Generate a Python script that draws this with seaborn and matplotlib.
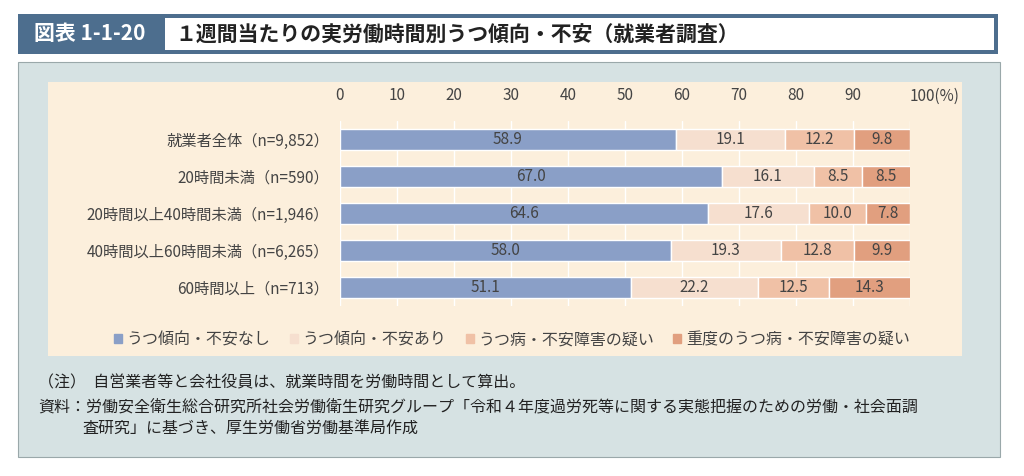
import matplotlib
matplotlib.use("Agg")
import matplotlib.pyplot as plt
import seaborn as sns
import pandas as pd
from matplotlib.patches import Rectangle

sns.set_theme(style="white")
plt.rcParams['font.family'] = ['Noto Sans CJK JP', 'DejaVu Sans']

categories = ["就業者全体（n=9,852）", "20時間未満（n=590）", "20時間以上40時間未満（n=1,946）",
              "40時間以上60時間未満（n=6,265）", "60時間以上（n=713）"]
series = ["うつ傾向・不安なし", "うつ傾向・不安あり", "うつ病・不安障害の疑い", "重度のうつ病・不安障害の疑い"]
v_none = [58.9, 67.0, 64.6, 58.0, 51.1]
v_some = [19.1, 16.1, 17.6, 19.3, 22.2]
v_sus = [12.2, 8.5, 10.0, 12.8, 12.5]
v_sev = [9.8, 8.5, 7.8, 9.9, 14.3]
colors = ["#8a9fc7", "#f6dfcf", "#f0c1a6", "#e19f7f"]
ticks = [0, 10, 20, 30, 40, 50, 60, 70, 80, 90, 100]

W, H = 1024, 476
fig = plt.figure(figsize=(W/100, H/100), dpi=100)
def fx(x): return x / W
def fy(y): return 1 - y / H
def rect(x0, y0, x1, y1, fc, ec="none", lw=0):
    fig.patches.append(Rectangle((fx(x0), fy(y1)), fx(x1-x0), (y1-y0)/H, transform=fig.transFigure,
                                 facecolor=fc, edgecolor=ec, linewidth=lw, zorder=-5))

# title bar
rect(18, 14, 998, 54, "#4d6e8e")
rect(165, 18, 994, 50, "white")
fig.text(fx(90), fy(34), "図表 1-1-20", color="white", fontsize=15, fontweight="bold", ha="center", va="center")
fig.text(fx(175), fy(34), "１週間当たりの実労働時間別うつ傾向・不安（就業者調査）", color="#222222",
         fontsize=15, fontweight="bold", ha="left", va="center")
# panels
rect(18, 62, 1000, 457, "#d6e2e3", ec="#9aa8aa", lw=0.8)
rect(48, 82, 962, 356, "#fcefdc")

ax = fig.add_axes([fx(340), fy(306), fx(910-340), (306-121)/H])
ax.set_zorder(5)
ax.set_facecolor("none")
ax.patch.set_alpha(0)
rows = []
for i, c in enumerate(categories):
    for s, v in zip(series, [v_none[i], v_some[i], v_sus[i], v_sev[i]]):
        rows.append(dict(cat=c, series=s, val=v))
df = pd.DataFrame(rows)
left = [0.0]*len(categories)
for s, col in zip(series, colors):
    sub = df[df.series == s].set_index("cat").loc[categories]
    vals = sub.val.values
    ax.barh(range(len(categories)), vals, left=left, height=0.55, color=col, zorder=2)
    for j, (v, l) in enumerate(zip(vals, left)):
        ax.text(l + v/2, j, f"{v:.1f}", ha="center", va="center", fontsize=11, color="#444444", zorder=3)
    left = [a+b for a, b in zip(left, vals)]
ax.set_xlim(0, 100)
ax.set_ylim(4.5, -0.5)
ax.set_yticks(range(len(categories)))
ax.set_yticklabels(categories, fontsize=11, color="#444444")
ax.xaxis.tick_top()
ax.set_xticks(ticks)
ax.set_xticklabels([str(t) for t in ticks[:-1]] + ["100(%)"], fontsize=11, color="#444444")
ax.get_xticklabels()[-1].set_horizontalalignment("left")
ax.tick_params(axis="x", pad=12, length=0)
ax.tick_params(axis="y", length=0, pad=8)
for t in ticks:
    ax.axvline(t, color="white", lw=1, zorder=1)
for sp in ax.spines.values():
    sp.set_visible(False)

# legend
handles = [Rectangle((0, 0), 1, 1, color=c) for c in colors]
fig.legend(handles, series, loc="center", bbox_to_anchor=(fx(512), fy(340)), ncol=4, frameon=False,
           fontsize=11.5, handlelength=0.5, handleheight=0.5, columnspacing=1.2, handletextpad=0.3,
           labelcolor="#444444")

fig.text(fx(38), fy(383), "（注）  自営業者等と会社役員は、就業時間を労働時間として算出。", fontsize=11.5, color="#222222", va="center")
fig.text(fx(38), fy(407), "資料：労働安全衛生総合研究所社会労働衛生研究グループ「令和４年度過労死等に関する実態把握のための労働・社会面調",
         fontsize=11.5, color="#222222", va="center")
fig.text(fx(82), fy(429), "査研究」に基づき、厚生労働省労働基準局作成", fontsize=11.5, color="#222222", va="center")

fig.savefig("out.png", dpi=100)
